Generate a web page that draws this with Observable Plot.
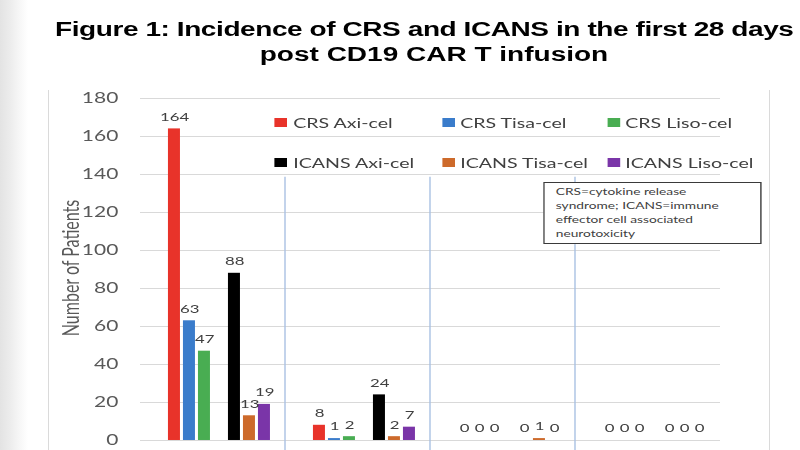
<!DOCTYPE html>
<html>
<head>
<meta charset="utf-8">
<script src="https://cdn.jsdelivr.net/npm/d3@7"></script>
<script src="https://cdn.jsdelivr.net/npm/@observablehq/plot@0.6"></script>
<style>
  html, body { margin: 0; padding: 0; width: 800px; height: 450px; overflow: hidden; }
  body {
    position: relative;
    background: linear-gradient(to right, #e3e3e3 0px, #ececec 10px, #f7f7f7 20px, #ffffff 28px);
  }
  #frame {
    position: absolute; left: 48px; top: 90px; width: 720px; height: 400px;
    border-left: 1px solid #dadada; border-right: 1px solid #dadada;
  }
  /* the figure is laid out at a narrower width and widened horizontally */
  #stage {
    position: absolute; left: 0; top: 0; width: 571.43px; height: 450px;
    transform: scaleX(1.4); transform-origin: 0 0;
  }
  .title {
    position: absolute; white-space: nowrap;
    font: bold 20px/25px "Liberation Sans", Arial, sans-serif; color: #000;
  }
  #title1 { top: 17px; left: 39.3px; letter-spacing: -0.3px; }
  #title2 { top: 42px; left: -10px; width: 640px; text-align: center; }
  #chart { position: absolute; left: 0; top: 80px; }
  #ylabel {
    position: absolute; left: 50px; top: 268px; white-space: nowrap;
    transform: translate(-50%, -50%) rotate(-90deg);
    font: 16px Lato, sans-serif; color: #595959;
  }
  #legend {
    position: absolute; left: 196.4px; top: 102px;
    display: grid; grid-template-columns: 119.3px 117.9px auto; grid-auto-rows: 40px;
    font: 14px Lato, sans-serif; color: #404040;
  }
  .item { display: flex; align-items: center; white-space: nowrap; }
  .sw { width: 9px; height: 9px; margin-right: 4px; flex: none; }
  #note {
    position: absolute; left: 388px; top: 182px; width: 156px; height: 62px;
    box-sizing: border-box; border: 1px solid #3a3a3a; background: #fff;
    padding: 1px 4px 0 8px; font: 9.8px/14px Lato, sans-serif; color: #404040; white-space: nowrap;
  }
</style>
</head>
<body>
<div id="frame"></div>
<div id="stage">
  <div class="title" id="title1">Figure 1: Incidence of CRS and ICANS in the first 28 days</div>
  <div class="title" id="title2">post CD19 CAR T infusion</div>
  <div id="chart"></div>
  <div id="ylabel">Number of Patients</div>
  <div id="legend"></div>
  <div id="note">CRS=cytokine release<br>syndrome; ICANS=immune<br>effector cell associated<br>neurotoxicity</div>
</div>
<script>
// Onset windows (category keys; one facet each)
const groups = ["Week 1", "Week 2", "Week 3", "Week 4"];

// Series, in legend order
const series = ["CRS Axi-cel", "CRS Tisa-cel", "CRS Liso-cel", "ICANS Axi-cel", "ICANS Tisa-cel", "ICANS Liso-cel"];
const colors = ["#e8332a", "#3a7ccb", "#49ad52", "#000000", "#cd6a2b", "#7a35a8"];

// Number of patients per onset window
const crsAxi    = [164, 8, 0, 0];
const crsTisa   = [63, 1, 0, 0];
const crsLiso   = [47, 2, 0, 0];
const icansAxi  = [88, 24, 0, 0];
const icansTisa = [13, 2, 1, 0];
const icansLiso = [19, 7, 0, 0];

const yTicks = [0, 20, 40, 60, 80, 100, 120, 140, 160, 180];

const values = [crsAxi, crsTisa, crsLiso, icansAxi, icansTisa, icansLiso];
const rows = groups.flatMap((g, i) => series.map((s, j) => ({group: g, series: s, value: values[j][i]})));

// bar slots inside each window: CRS cluster, a blank slot, ICANS cluster
const slots = [...series.slice(0, 3), "·", ...series.slice(3)];

const W = 800 / 1.4;
const H = 370;
const chart = Plot.plot({
  width: W,
  height: H,
  marginLeft: 100,
  marginRight: W - 514.29,
  marginTop: 18,
  marginBottom: 10,
  style: {fontFamily: "Lato, sans-serif", fontSize: "15px", color: "#595959", background: "transparent", overflow: "visible"},
  fx: {domain: groups, paddingInner: 0, paddingOuter: 0, round: false, axis: null},
  x: {domain: slots, paddingInner: 0.2, paddingOuter: 1.433, align: 0.65, round: false, axis: null},
  y: {domain: [0, 180], ticks: yTicks, tickSize: 0, tickPadding: 16, label: null},
  color: {domain: series, range: colors},
  marks: [
    Plot.ruleY(yTicks, {stroke: "#d9d9d9", strokeWidth: 1}),
    Plot.barY(rows, {fx: "group", x: "series", y: "value", fill: "series", insetLeft: 0, insetRight: 0}),
    Plot.text(rows, {fx: "group", x: "series", y: "value", text: d => String(d.value), dy: -12, fill: "#404040", fontSize: 12})
  ]
});
document.getElementById("chart").appendChild(chart);

// thin dividers between the onset windows, running below the legend
const dividerTop = 138.5;
const fxs = chart.scale("fx");
const fxBand = d3.scaleBand(fxs.domain, fxs.range || [100, 514.29])
  .paddingInner(fxs.paddingInner || 0)
  .paddingOuter(fxs.paddingOuter || 0)
  .align(fxs.align ?? 0.5);
const ys = chart.scale("y");
const yLin = d3.scaleLinear(ys.domain, ys.range);
d3.select(chart).append("g")
  .selectAll("line")
  .data(groups.slice(1))
  .join("line")
  .attr("x1", g => fxBand(g))
  .attr("x2", g => fxBand(g))
  .attr("y1", yLin(dividerTop))
  .attr("y2", H)
  .attr("stroke", "#a9c1e3")
  .attr("stroke-width", 1);

// legend: two rows of three
const legend = d3.select("#legend");
series.forEach((s, i) => {
  const item = legend.append("div").attr("class", "item");
  item.append("span").attr("class", "sw").style("background", colors[i]);
  item.append("span").text(s);
});
</script>
</body>
</html>
